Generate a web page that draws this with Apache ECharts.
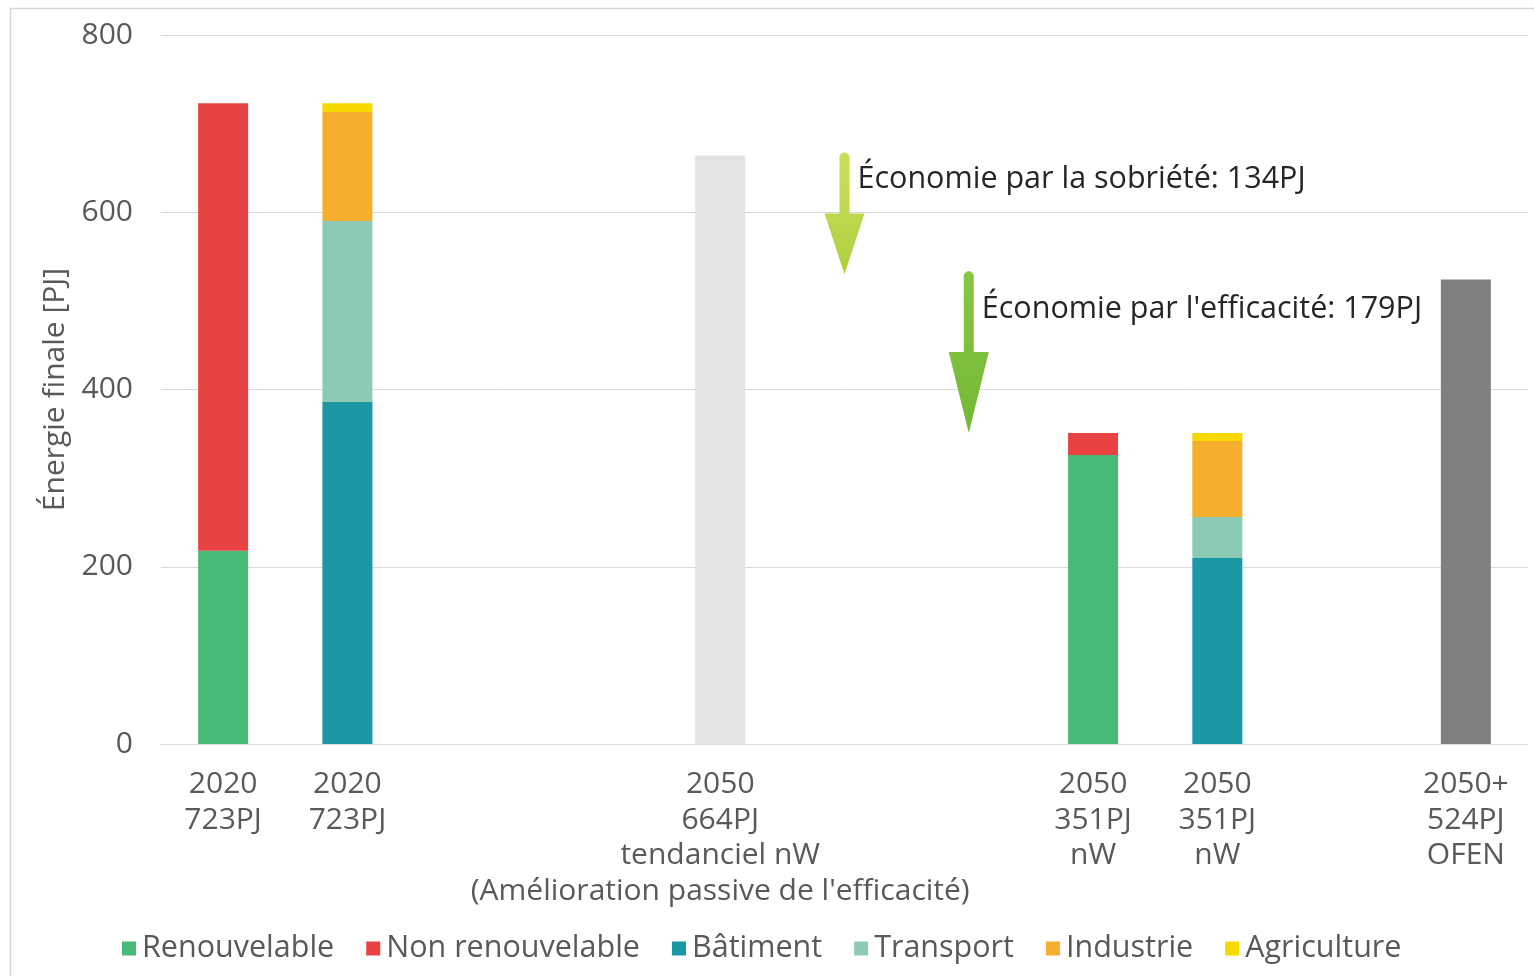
<!DOCTYPE html>
<html>
<head>
<meta charset="utf-8">
<script src="https://cdn.jsdelivr.net/npm/echarts@6/dist/echarts.min.js"></script>
<style>
html,body{margin:0;padding:0;background:#fff;}
#chart{width:1534px;height:976px;}
</style>
</head>
<body>
<div id="chart"></div>
<script>
// ---- Data ----
const categories = [
  '2020\n723PJ',
  '2020\n723PJ',
  '',
  '',
  "2050\n664PJ\ntendanciel nW\n(Amélioration passive de l'efficacité)",
  '',
  '',
  '2050\n351PJ\nnW',
  '2050\n351PJ\nnW',
  '',
  '2050+\n524PJ\nOFEN'
];
const renouvelable    = [218, null, null, null, null, null, null, 326, null, null, null];
const nonRenouvelable = [505, null, null, null, null, null, null, 25, null, null, null];
const batiment        = [null, 386, null, null, null, null, null, null, 210, null, null];
const transport       = [null, 204, null, null, null, null, null, null, 46, null, null];
const industrie       = [null, 123, null, null, null, null, null, null, 86, null, null];
const agriculture     = [null, 10, null, null, null, null, null, null, 9, null, null];
const tendanciel      = [null, null, null, null, 664, null, null, null, null, null, null];
const ofen            = [null, null, null, null, null, null, null, null, null, null, 524];
// arrows: [category index, from value, to value, label value]
const arrowCategory = [5, 6];
const arrowFrom     = [664, 530];
const arrowTo       = [530, 351];
const arrowLabelAt  = [637, 490];
const arrowLabels   = ['Économie par la sobriété: 134PJ', "Économie par l'efficacité: 179PJ"];
const yTicks = {min: 0, max: 800, interval: 200};

// ---- Chart ----
const FONT = '"Open Sans"';
const arrowColors = [['#c9df5c', '#b0d03e'], ['#86c545', '#74b934']];
const chart = echarts.init(document.getElementById('chart'));

function bar(name, data, color) {
  return {
    name, type: 'bar', stack: 'total', data, barWidth: 50,
    itemStyle: {color}, emphasis: {disabled: true}
  };
}

const arrowData = arrowCategory.map((c, i) => [c, arrowFrom[i], arrowTo[i], arrowLabelAt[i], arrowLabels[i]]);

const option = {
  animation: false,
  textStyle: {fontFamily: FONT},
  graphic: [{
    type: 'rect', left: 8, top: 6, z: -10, silent: true,
    shape: {width: 1560, height: 1000},
    style: {fill: 'none', stroke: '#d6d6d6', lineWidth: 1.5}
  }],
  grid: {left: 161, right: 6, top: 35, bottom: 232, containLabel: false},
  legend: {
    data: ['Renouvelable', 'Non renouvelable', 'Bâtiment', 'Transport', 'Industrie', 'Agriculture'],
    left: 117, top: 928,
    icon: 'rect', itemWidth: 14, itemHeight: 14, itemGap: 32,
    textStyle: {fontFamily: FONT, fontSize: 30.5, color: '#595959', padding: [0, 0, 0, 1]},
    selectedMode: false
  },
  xAxis: {
    type: 'category', data: categories,
    axisLine: {lineStyle: {color: '#d9d9d9', width: 1}},
    axisTick: {show: false},
    axisLabel: {interval: 0, fontFamily: FONT, fontSize: 30, lineHeight: 35.5, color: '#595959', margin: 23}
  },
  yAxis: {
    type: 'value', min: yTicks.min, max: yTicks.max, interval: yTicks.interval,
    name: 'Énergie finale [PJ]', nameLocation: 'middle', nameGap: 88, nameRotate: 90,
    nameTextStyle: {fontFamily: FONT, fontSize: 30, color: '#595959'},
    axisLine: {show: false}, axisTick: {show: false},
    axisLabel: {fontFamily: FONT, fontSize: 30, color: '#595959', margin: 28},
    splitLine: {lineStyle: {color: '#d9d9d9', width: 1}}
  },
  series: [
    bar('Renouvelable', renouvelable, '#48b976'),
    bar('Non renouvelable', nonRenouvelable, '#e84242'),
    bar('Bâtiment', batiment, '#1b98a3'),
    bar('Transport', transport, '#8ccab7'),
    bar('Industrie', industrie, '#f5ae2e'),
    bar('Agriculture', agriculture, '#f7d900'),
    bar('Tendanciel', tendanciel, '#e3e3e3'),
    bar('OFEN', ofen, '#808080'),
    {
      name: 'arrows', type: 'custom', z: 10, silent: true,
      data: arrowData,
      encode: {x: 0, y: [1, 2]},
      renderItem: function (params, api) {
        const c = api.value(0);
        const top = api.coord([c, api.value(1)]);
        const tip = api.coord([c, api.value(2)]);
        const lab = api.coord([c, api.value(3)]);
        const cx = top[0];
        const t = top[1] - 3, b = tip[1];
        const hs = t + (b - t) * 0.5;
        const sw = 5, hw = 20;
        const cols = arrowColors[params.dataIndex];
        const grad = new echarts.graphic.LinearGradient(0, 0, 0, 1, [
          {offset: 0, color: cols[0]}, {offset: 1, color: cols[1]}
        ]);
        return {
          type: 'group',
          children: [
            {type: 'circle', shape: {cx: cx, cy: t + sw, r: sw}, style: {fill: cols[0]}},
            {type: 'polygon', shape: {points: [
              [cx - sw, t + sw], [cx + sw, t + sw], [cx + sw, hs], [cx + hw, hs],
              [cx, b], [cx - hw, hs], [cx - sw, hs]
            ]}, style: {fill: grad}},
            {type: 'text', x: cx + 13, y: lab[1], style: {
              text: arrowLabels[params.dataIndex], fill: '#262626',
              font: '30.5px ' + FONT, verticalAlign: 'middle', align: 'left'
            }}
          ]
        };
      }
    }
  ]
};
chart.setOption(option);
</script>
</body>
</html>
